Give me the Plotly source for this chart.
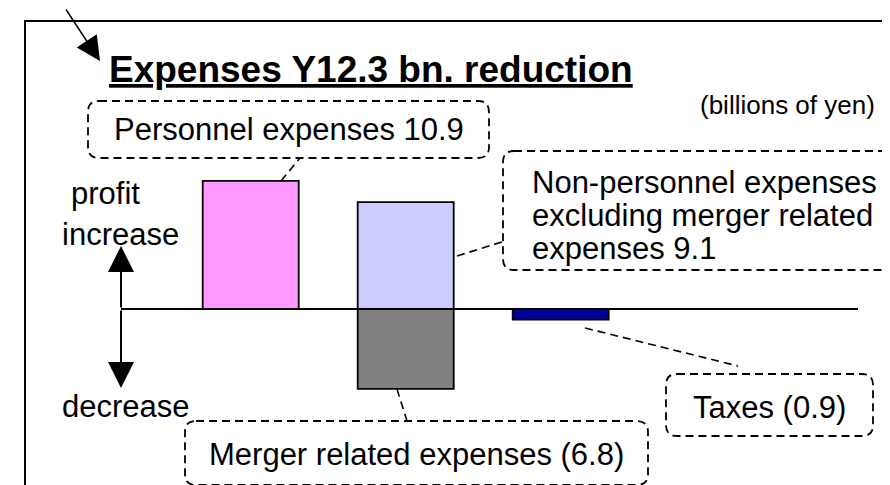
import plotly.graph_objects as go

W, H = 890, 485

# ---- data ----
categories = ["Personnel", "Non-personnel / Merger", "Taxes"]
personnel = [10.9]
non_personnel = [9.1]
merger = [-6.8]
taxes = [-0.9]

title_text = "Expenses Y12.3 bn. reduction"
unit_text = "(billions of yen)"
label_personnel = "Personnel expenses 10.9"
label_nonpersonnel = ["Non-personnel expenses", "excluding merger related", "expenses 9.1"]
label_merger = "Merger related expenses (6.8)"
label_taxes = "Taxes (0.9)"
axis_up = ["profit", "increase"]
axis_down = "decrease"

FONT = "Liberation Sans, Arial, Helvetica, sans-serif"


def px(x):
    return x / W


def py(y):
    return 1 - y / H


# category axis geometry (pixels)
X_LEFT, X_RIGHT = 113, 850
C0, STEP = 242.7, 155.0
BW = 96 / STEP
ZERO_Y, PPU = 301, 11.75

fig = go.Figure()
line = dict(color="black", width=1.8)
fig.add_bar(x=[categories[0]], y=personnel, width=BW,
            marker=dict(color="#FF99FF", line=line), name="Personnel")
fig.add_bar(x=[categories[1]], y=non_personnel, width=BW,
            marker=dict(color="#CCCCFF", line=line), name="Non-personnel")
fig.add_bar(x=[categories[1]], y=merger, width=BW,
            marker=dict(color="#808080", line=line), name="Merger")
fig.add_bar(x=[categories[2]], y=taxes, width=BW,
            marker=dict(color="#000099", line=line), name="Taxes")

shapes = []
# outer frame (open to the right/bottom)
shapes.append(dict(type="rect", xref="paper", yref="paper",
                   x0=px(17), y0=py(13), x1=px(900), y1=py(500),
                   line=dict(color="black", width=2)))

DASH = "8px,5px"


def rbox(x0, y0, x1, y1, r=11):
    X0, X1 = px(x0), px(x1)
    Y0, Y1 = py(y0), py(y1)
    rx, ry = r / W, r / H
    path = (f"M{X0+rx},{Y0} L{X1-rx},{Y0} Q{X1},{Y0} {X1},{Y0-ry} "
            f"L{X1},{Y1+ry} Q{X1},{Y1} {X1-rx},{Y1} L{X0+rx},{Y1} "
            f"Q{X0},{Y1} {X0},{Y1+ry} L{X0},{Y0-ry} Q{X0},{Y0} {X0+rx},{Y0} Z")
    return dict(type="path", xref="paper", yref="paper", path=path,
                line=dict(color="black", width=1.8, dash=DASH))


def conn(x0, y0, x1, y1):
    return dict(type="line", xref="paper", yref="paper",
                x0=px(x0), y0=py(y0), x1=px(x1), y1=py(y1),
                line=dict(color="black", width=1.6, dash=DASH))


shapes += [
    rbox(80, 93, 481, 150),
    rbox(495, 143, 888, 262),
    rbox(177, 413, 640, 477),
    rbox(658, 366, 865, 428),
    conn(273, 173, 292, 150),
    conn(449, 248, 497, 233),
    conn(389, 381, 399, 413),
    conn(577, 320, 730, 358),
]

ann = []


def txt(text, x, y, size=31, xanchor="left"):
    ann.append(dict(text=text, x=px(x), y=py(y), xref="paper", yref="paper",
                    xanchor=xanchor, yanchor="middle", showarrow=False,
                    borderpad=0, font=dict(family=FONT, size=size, color="black")))


txt(f"<b><u>{title_text}</u></b>", 100, 62, size=37)
txt(unit_text, 691, 97, size=26)
txt(label_personnel, 280.5, 121, xanchor="center")
for i, s in enumerate(label_nonpersonnel):
    txt(s, 523, 174 + 33 * i)
txt(label_merger, 408.5, 446, xanchor="center")
txt(label_taxes, 761, 399, xanchor="center")
txt(axis_up[0], 62, 186)
txt(axis_up[1], 53, 226)
txt(axis_down, 53, 398)


# arrows
def arrow(hx, hy, tx, ty, width=2, size=2):
    ann.append(dict(x=px(hx), y=py(hy), xref="paper", yref="paper",
                    ax=tx - hx, ay=ty - hy, showarrow=True, text="",
                    arrowhead=2, arrowwidth=width, arrowsize=size,
                    arrowcolor="black"))


arrow(113, 238, 113, 301, width=2, size=2.6)
arrow(113, 380, 113, 301, width=2, size=2.6)
arrow(92, 53, 57, -2, width=1.5, size=3.2)

fig.update_layout(
    width=W, height=H, autosize=False,
    margin=dict(l=0, r=0, t=0, b=0),
    paper_bgcolor="white", plot_bgcolor="white",
    barmode="overlay", showlegend=False,
    shapes=shapes, annotations=ann,
    xaxis=dict(type="category", categoryorder="array", categoryarray=categories,
               domain=[px(X_LEFT), px(X_RIGHT)],
               range=[(X_LEFT - C0) / STEP, (X_RIGHT - C0) / STEP],
               showgrid=False, showticklabels=False, ticks="", zeroline=False,
               showline=False, fixedrange=True),
    yaxis=dict(range=[-(H - ZERO_Y) / PPU, ZERO_Y / PPU], domain=[0, 1],
               showgrid=False, showticklabels=False, ticks="",
               zeroline=True, zerolinecolor="black", zerolinewidth=1.5,
               showline=False, fixedrange=True),
)

fig.write_html("out.html")
